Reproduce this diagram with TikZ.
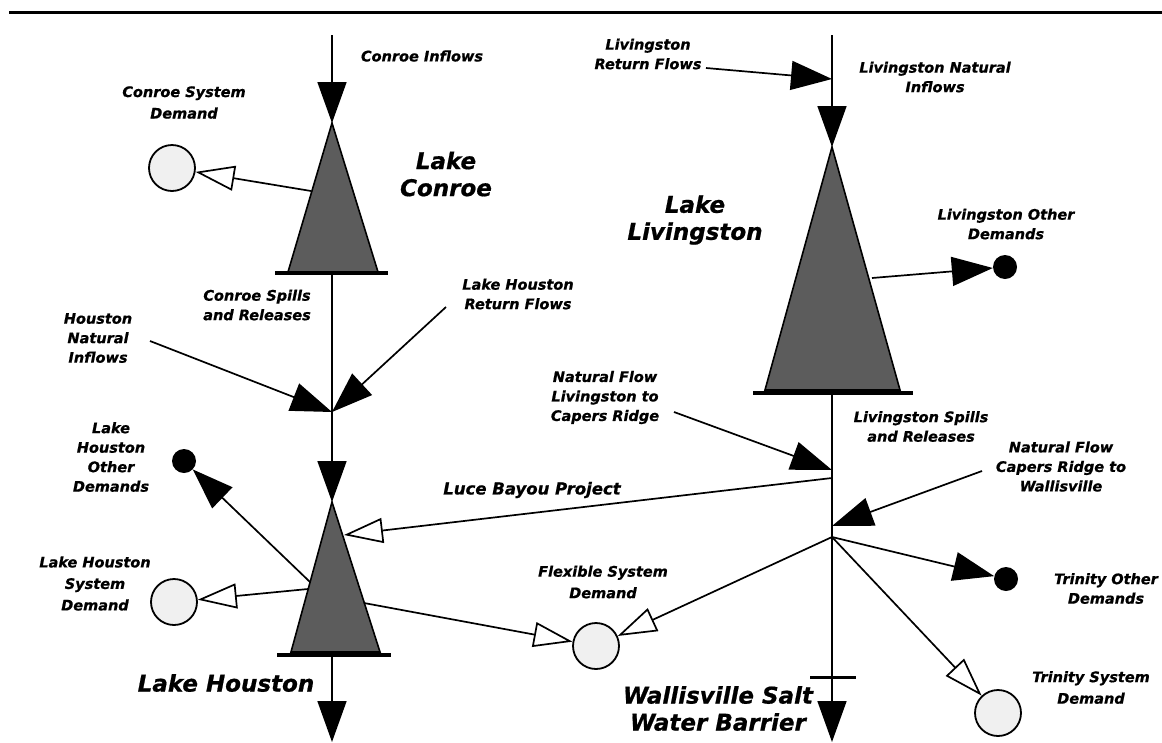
\documentclass[tikz,border=0pt]{standalone}
\usepackage{fontspec}
\setmainfont{DejaVu Sans}[BoldItalicFeatures={FakeBold=0.8}]
\usetikzlibrary{arrows.meta}
\begin{document}
\begin{tikzpicture}[x=1pt,y=-1pt,
  ln/.style={line width=1.7pt},
  fhead/.style={ln,-{Triangle[length=41pt,width=29pt]}},
  ohead/.style={ln,-{Triangle[open,length=39pt,width=25pt,fill=white]}},
  res/.style={draw,line width=1.6pt,fill=black!64,line join=miter},
  bar/.style={line width=3.5pt},
  sysdem/.style={circle,draw,line width=1.8pt,fill=black!6,minimum size=46pt,inner sep=0pt},
  othdem/.style={circle,fill=black,minimum size=24pt,inner sep=0pt},
  lab/.style={font=\fontsize{14.5}{19.5}\selectfont\bfseries\itshape,align=center,inner sep=0pt},
  labw/.style={font=\fontsize{14.5}{21.5}\selectfont\bfseries\itshape,align=center,inner sep=0pt},
  big/.style={font=\fontsize{23}{27}\selectfont\bfseries\itshape,align=center,inner sep=0pt}]
\useasboundingbox (0,0) rectangle (1162,742);
% top rule
\coordinate (r1) at (9,12); \coordinate (r2) at (1162,12);
\draw[line width=3pt] (r1) -- (r2);

% ---------- Lake Conroe ----------
\coordinate (ca) at (332,123); \coordinate (cbl) at (288,272); \coordinate (cbr) at (378,272);
\draw[res] (ca) -- (cbr) -- (cbl) -- cycle;
\coordinate (cb1) at (275,273); \coordinate (cb2) at (388,273); \coordinate (cbm) at (332,273);
\draw[bar] (cb1) -- (cb2);
\coordinate (ctop) at (332,35);
\draw[fhead] (ctop) -- (ca);
\node[sysdem] (csd) at (172,168) {};
\coordinate (cs) at (311,191);
\draw[ohead] (cs) -- (csd);

% ---------- Lake Houston ----------
\coordinate (j1) at (332,412);
\coordinate (ha) at (332,502); \coordinate (hbl) at (291,652); \coordinate (hbr) at (380,652);
\coordinate (hin) at (150,341); \coordinate (hret) at (446,307);
\draw[ln] (cbm) -- (j1);
\draw[fhead] (j1) -- (ha);
\draw[fhead] (hin) -- (j1);
\draw[fhead] (hret) -- (j1);
\draw[res] (ha) -- (hbr) -- (hbl) -- cycle;
\coordinate (hb1) at (277,655); \coordinate (hb2) at (391,655); \coordinate (hbm) at (332,655);
\draw[bar] (hb1) -- (hb2);
\coordinate (hbot) at (332,742);
\draw[fhead] (hbm) -- (hbot);
\node[othdem] (hod) at (184,461) {};
\coordinate (hs1) at (310,582);
\draw[fhead] (hs1) -- (hod);
\node[sysdem] (hsd) at (174,602) {};
\coordinate (hs2) at (308,589);
\draw[ohead] (hs2) -- (hsd);
\node[sysdem] (fsd) at (596,646) {};
\coordinate (hs3) at (364,603);
\draw[ohead] (hs3) -- (fsd);

% ---------- Lake Livingston ----------
\coordinate (la) at (832,147); \coordinate (lbl) at (765,390); \coordinate (lbr) at (900,390);
\draw[res] (la) -- (lbr) -- (lbl) -- cycle;
\coordinate (lb1) at (753,393); \coordinate (lb2) at (913,393); \coordinate (lbm) at (832,393);
\draw[bar] (lb1) -- (lb2);
\coordinate (ltop) at (832,35); \coordinate (lj0) at (832,79); \coordinate (lret) at (706,68);
\draw[fhead] (ltop) -- (la);
\draw[fhead] (lret) -- (lj0);
\node[othdem] (lod) at (1005,267) {};
\coordinate (ls1) at (872,278);
\draw[fhead] (ls1) -- (lod);

% trunk below Livingston
\coordinate (lbot) at (832,742);
\draw[fhead] (lbm) -- (lbot);
\coordinate (wb1) at (810,677); \coordinate (wb2) at (856,677);
\draw[line width=3pt] (wb1) -- (wb2);
\coordinate (lj1) at (832,470); \coordinate (nfl) at (674,412);
\draw[fhead] (nfl) -- (lj1);
\coordinate (luce) at (832,478); \coordinate (hl) at (344,535);
\draw[ohead] (luce) -- (hl);
\coordinate (lj2) at (832,526); \coordinate (nfc) at (982,471);
\draw[fhead] (nfc) -- (lj2);
\coordinate (hub) at (832,537);
\node[othdem] (tod) at (1006,579) {};
\draw[fhead] (hub) -- (tod);
\node[sysdem] (tsd) at (998,713) {};
\draw[ohead] (hub) -- (tsd);
\draw[ohead] (hub) -- (fsd);

% ---------- labels ----------
\node[lab] (t1) at (422,56) {Conroe Inflows};
\node[labw] (t2) at (184,102.5) {Conroe System\\Demand};
\node[big] (t3) at (446,174) {Lake\\Conroe};
\node[lab] (t4) at (257,305) {Conroe Spills\\and Releases};
\node[lab] (t5) at (98,338) {Houston\\Natural\\Inflows};
\node[lab] (t6) at (518,294) {Lake Houston\\Return Flows};
\node[lab] (t7) at (111,457) {Lake\\Houston\\Other\\Demands};
\node[font=\fontsize{16.5}{20}\selectfont\bfseries\itshape,inner sep=0pt] (t8) at (532,490) {Luce Bayou Project};
\node[labw] (t9) at (95,583.5) {Lake Houston\\System\\Demand};
\node[big] (t10) at (226,683) {Lake Houston};
\node[labw] (t11) at (603,582) {Flexible System\\Demand};
\node[lab] (t12) at (648,54) {Livingston\\Return Flows};
\node[lab] (t13) at (935,77) {Livingston Natural\\Inflows};
\node[big] (t14) at (695,220) {Lake\\Livingston};
\node[lab] (t15) at (1006,224) {Livingston Other\\Demands};
\node[lab] (t16) at (921,426.5) {Livingston Spills\\and Releases};
\node[lab] (t17) at (605,397.5) {Natural Flow\\Livingston to\\Capers Ridge};
\node[lab] (t18) at (1061,466.5) {Natural Flow\\Capers Ridge to\\Wallisville};
\node[lab] (t19) at (1106,588.5) {Trinity Other\\Demands};
\node[labw] (t20) at (1091,687.5) {Trinity System\\Demand};
\node[big] (t21) at (718,708.5) {Wallisville Salt\\Water Barrier};
\end{tikzpicture}
\end{document}
